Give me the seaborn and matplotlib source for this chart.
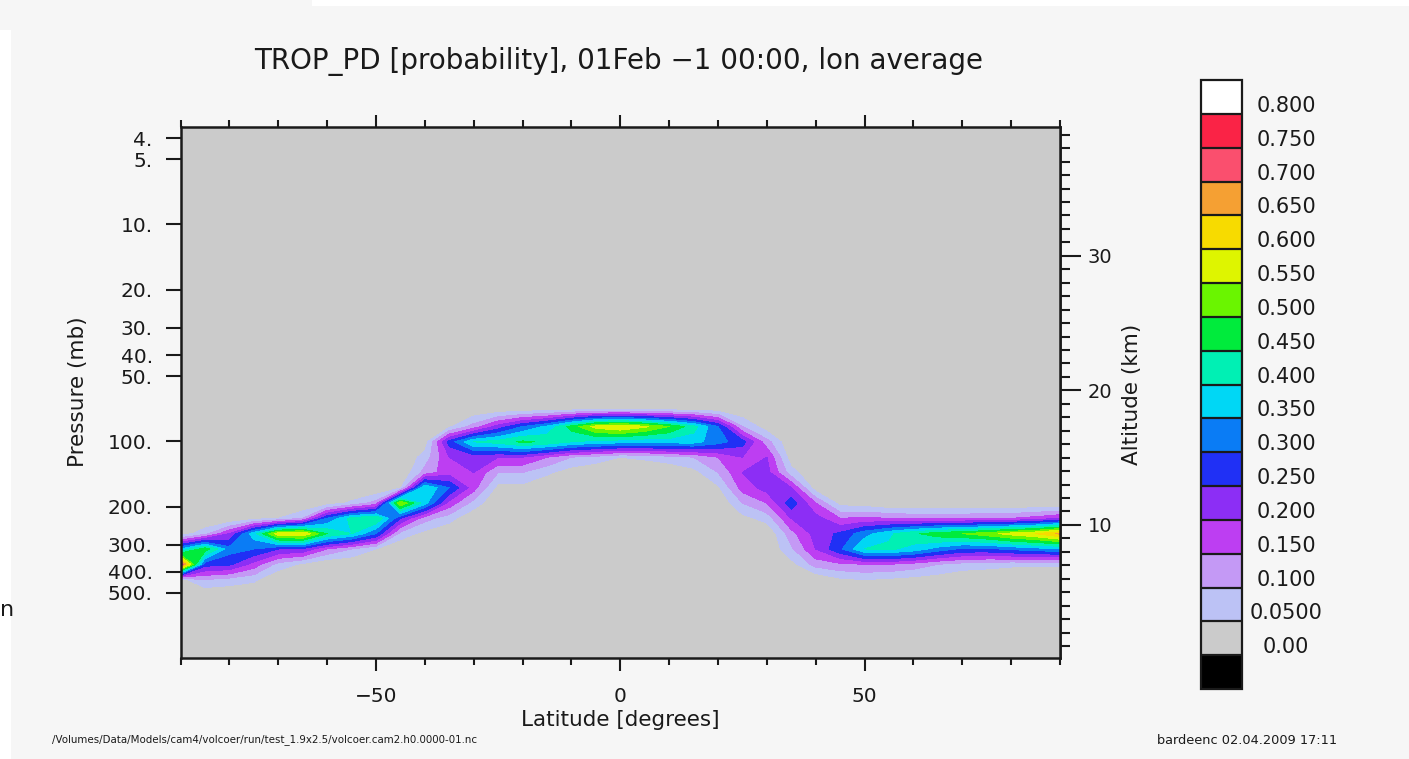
import numpy as np
import matplotlib
matplotlib.use("Agg")
import matplotlib.pyplot as plt
import seaborn as sns
from matplotlib.colors import ListedColormap, BoundaryNorm
from matplotlib.ticker import FixedLocator, MultipleLocator, NullLocator, FixedFormatter, NullFormatter
from matplotlib.patches import Rectangle
from matplotlib.transforms import ScaledTranslation, blended_transform_factory

sns.set_theme(style="ticks")
plt.rcParams["font.family"] = ["DejaVu Sans"]
plt.rcParams["axes.unicode_minus"] = True

# ---------------- data ----------------
latitude = [-90, -85, -80, -75, -70, -65, -60, -55, -50, -45, -40, -35, -30,
            -25, -20, -15, -10, -5, 0, 5, 10, 15, 20, 25, 30, 35, 40, 45,
            50, 55, 60, 65, 70, 75, 80, 85, 90]

pressure = [3.54, 53.11, 70.06, 85.44, 100.51, 118.25, 139.12, 163.66,
            192.54, 226.51, 266.48, 313.50, 368.82, 433.90, 510.46, 992.56]

prob = [
    # 3.54
    [0, 0, 0, 0, 0, 0, 0, 0, 0, 0, 0, 0, 0, 0, 0, 0, 0, 0, 0, 0, 0, 0, 0, 0, 0, 0, 0, 0, 0, 0, 0, 0, 0, 0, 0, 0, 0],
    # 53.11
    [0, 0, 0, 0, 0, 0, 0, 0, 0, 0, 0, 0, 0, 0, 0, 0, 0, 0, 0, 0, 0, 0, 0, 0, 0, 0, 0, 0, 0, 0, 0, 0, 0, 0, 0, 0, 0],
    # 70.06
    [0, 0, 0, 0, 0, 0, 0, 0, 0, 0, 0, 0, 0, 0, 0, 0, 0, 0, 0, 0, 0, 0, 0, 0, 0, 0, 0, 0, 0, 0, 0, 0, 0, 0, 0, 0, 0],
    # 85.44
    [0, 0, 0, 0, 0, 0, 0, 0, 0, 0, 0, 0.04, 0.12, 0.22, 0.30, 0.36, 0.47, 0.57, 0.60, 0.56, 0.50, 0.42, 0.30, 0.10,
     0.02, 0, 0, 0, 0, 0, 0, 0, 0, 0, 0, 0, 0],
    # 100.51
    [0, 0, 0, 0, 0, 0, 0, 0, 0, 0, 0.02, 0.27, 0.40, 0.42, 0.46, 0.44, 0.40, 0.38, 0.37, 0.36, 0.37, 0.37, 0.32,
     0.27, 0.12, 0, 0, 0, 0, 0, 0, 0, 0, 0, 0, 0, 0],
    # 118.25
    [0, 0, 0, 0, 0, 0, 0, 0, 0, 0, 0.07, 0.20, 0.22, 0.20, 0.20, 0.15, 0.10, 0.08, 0.05, 0.06, 0.08, 0.10, 0.15,
     0.20, 0.20, 0.02, 0, 0, 0, 0, 0, 0, 0, 0, 0, 0, 0],
    # 139.12
    [0, 0, 0, 0, 0, 0, 0, 0, 0, 0, 0.12, 0.18, 0.20, 0.10, 0.10, 0.06, 0.02, 0, 0, 0, 0, 0.03, 0.10,
     0.20, 0.22, 0.07, 0, 0, 0, 0, 0, 0, 0, 0, 0, 0, 0],
    # 163.66
    [0, 0, 0, 0, 0, 0, 0, 0, 0, 0.04, 0.40, 0.30, 0.17, 0.03, 0.03, 0, 0, 0, 0, 0, 0, 0, 0.04,
     0.17, 0.22, 0.20, 0.02, 0, 0, 0, 0, 0, 0, 0, 0, 0, 0],
    # 192.54
    [0, 0, 0, 0, 0, 0, 0.02, 0.06, 0.12, 0.55, 0.37, 0.18, 0.08, 0, 0, 0, 0, 0, 0, 0, 0, 0, 0,
     0.10, 0.15, 0.28, 0.15, 0.03, 0.02, 0, 0, 0, 0, 0, 0, 0, 0],
    # 226.51
    [0, 0, 0, 0.03, 0.05, 0.10, 0.30, 0.42, 0.45, 0.25, 0.12, 0.07, 0, 0, 0, 0, 0, 0, 0, 0, 0, 0, 0,
     0.03, 0.07, 0.20, 0.22, 0.15, 0.16, 0.15, 0.14, 0.14, 0.14, 0.15, 0.15, 0.17, 0.20],
    # 266.48
    [0.02, 0.08, 0.20, 0.38, 0.58, 0.60, 0.45, 0.40, 0.30, 0.08, 0.03, 0, 0, 0, 0, 0, 0, 0, 0, 0, 0, 0, 0,
     0, 0, 0.13, 0.22, 0.26, 0.33, 0.39, 0.44, 0.48, 0.50, 0.53, 0.57, 0.60, 0.66],
    # 313.50
    [0.35, 0.48, 0.32, 0.30, 0.25, 0.24, 0.15, 0.10, 0.05, 0, 0, 0, 0, 0, 0, 0, 0, 0, 0, 0, 0, 0, 0,
     0, 0, 0.09, 0.20, 0.29, 0.40, 0.41, 0.38, 0.33, 0.29, 0.29, 0.31, 0.33, 0.34],
    # 368.82
    [0.75, 0.27, 0.26, 0.18, 0.08, 0.04, 0, 0, 0, 0, 0, 0, 0, 0, 0, 0, 0, 0, 0, 0, 0, 0, 0,
     0, 0, 0.03, 0.12, 0.14, 0.15, 0.15, 0.13, 0.10, 0.08, 0.07, 0.06, 0.06, 0.06],
    # 433.90
    [0.03, 0.10, 0.08, 0.06, 0, 0, 0, 0, 0, 0, 0, 0, 0, 0, 0, 0, 0, 0, 0, 0, 0, 0, 0,
     0, 0, 0, 0, 0.04, 0.05, 0.04, 0.03, 0.02, 0, 0, 0, 0, 0],
    # 510.46
    [0, 0, 0, 0, 0, 0, 0, 0, 0, 0, 0, 0, 0, 0, 0, 0, 0, 0, 0, 0, 0, 0, 0, 0, 0, 0, 0, 0, 0, 0, 0, 0, 0, 0, 0, 0, 0],
    # 992.56
    [0, 0, 0, 0, 0, 0, 0, 0, 0, 0, 0, 0, 0, 0, 0, 0, 0, 0, 0, 0, 0, 0, 0, 0, 0, 0, 0, 0, 0, 0, 0, 0, 0, 0, 0, 0, 0],
]

levels = [0.0, 0.05, 0.1, 0.15, 0.2, 0.25, 0.3, 0.35, 0.4, 0.45, 0.5, 0.55,
          0.6, 0.65, 0.7, 0.75, 0.8]
level_labels = ["0.00", "0.0500", "0.100", "0.150", "0.200", "0.250", "0.300",
                "0.350", "0.400", "0.450", "0.500", "0.550", "0.600", "0.650",
                "0.700", "0.750", "0.800"]
fill_colors = ["#cbcbcb", "#bcc2f5", "#c499f5", "#bd3ef2", "#8c2ef5", "#2030f5",
               "#0a7cf5", "#00d7f5", "#00f0b4", "#00eb3c", "#6af500", "#def500",
               "#f7db00", "#f5a033", "#fa4f6e", "#fa2346"]
under_color = "#000000"
over_color = "#ffffff"

lat_ticks = [-50, 0, 50]
lat_tick_labels = ["\u221250", "0", "50"]
p_ticks = [4, 5, 10, 20, 30, 40, 50, 100, 200, 300, 400, 500]
p_tick_labels = ["4.", "5.", "10.", "20.", "30.", "40.", "50.", "100.",
                 "200.", "300.", "400.", "500."]
alt_ticks = [10, 20, 30]
alt_tick_labels = ["10", "20", "30"]

title = "TROP_PD [probability], 01Feb \u22121 00:00, lon average"
footer_left = "/Volumes/Data/Models/cam4/volcoer/run/test_1.9x2.5/volcoer.cam2.h0.0000-01.nc"
footer_right = "bardeenc 02.04.2009 17:11"

# ---------------- figure ----------------
W, H, DPI = 1409, 759, 100
BG = "#f6f6f6"
INK = "#1a1a1a"

fig = plt.figure(figsize=(W / DPI, H / DPI), dpi=DPI, facecolor=BG)


def fx(px):
    return px / W


def fy(py):
    return 1 - py / H


# screenshot white strips
fig.add_artist(Rectangle((fx(312), fy(6)), 1, 6 / H, transform=fig.transFigure,
                         facecolor="white", edgecolor="none", zorder=0))
fig.add_artist(Rectangle((0, 0), fx(11), fy(30), transform=fig.transFigure,
                         facecolor="white", edgecolor="none", zorder=0))
fig.text(fx(0), fy(610), "n", fontsize=16, color=INK, ha="left", va="center")

ax = fig.add_axes([fx(180.5), fy(657.5), fx(1060) - fx(180.5), fy(126.7) - fy(657.5)])
ax.set_facecolor("#cbcbcb")

Z = np.clip(np.array(prob, dtype=float), 1e-4, None)
cmap = ListedColormap(sns.color_palette(fill_colors))
cmap.set_under(under_color)
cmap.set_over(over_color)
norm = BoundaryNorm(levels, cmap.N)
cs = ax.contourf(latitude, pressure, Z, levels=levels, cmap=cmap, norm=norm,
                 extend="both", antialiased=False)

ax.set_yscale("log")
ax.set_xlim(-90, 90)
ax.set_ylim(992.56, 3.54)
ax.yaxis.set_major_locator(FixedLocator(p_ticks))
ax.yaxis.set_major_formatter(FixedFormatter(p_tick_labels))
ax.yaxis.set_minor_locator(NullLocator())
ax.tick_params(axis="y", which="major", direction="out", length=11, width=1.5,
               left=True, right=False, labelsize=14.5, pad=9, colors=INK)
ax.xaxis.set_major_locator(FixedLocator(lat_ticks))
ax.xaxis.set_major_formatter(FixedFormatter(lat_tick_labels))
ax.xaxis.set_minor_locator(MultipleLocator(10))
ax.tick_params(axis="x", which="both", direction="out", top=True, bottom=True,
               width=1.5, colors=INK)
ax.tick_params(axis="x", which="major", length=9, labelsize=14.5, pad=12)
ax.tick_params(axis="x", which="minor", length=5)
for s in ax.spines.values():
    s.set_color(INK)
    s.set_linewidth(1.8)
ax.grid(False)


def p_to_z(p):
    p = np.clip(np.asarray(p, dtype=float), 1e-6, None)
    return 7.0 * np.log(1013.25 / p)


def z_to_p(z):
    return 1013.25 * np.exp(-np.asarray(z, dtype=float) / 7.0)


sec = ax.secondary_yaxis("right", functions=(p_to_z, z_to_p))
sec.yaxis.set_major_locator(FixedLocator(alt_ticks))
sec.yaxis.set_major_formatter(FixedFormatter(alt_tick_labels))
sec.yaxis.set_minor_locator(MultipleLocator(1))
sec.yaxis.set_minor_formatter(NullFormatter())
sec.tick_params(which="major", direction="out", length=15, width=1.5, labelsize=14,
                pad=5, colors=INK)
sec.tick_params(which="minor", direction="out", length=7, width=1.5, colors=INK)
for s in sec.spines.values():
    s.set_color(INK)
    s.set_linewidth(1.8)

# colorbar
cax = fig.add_axes([fx(1200.7), fy(689), fx(1242) - fx(1200.7), fy(80) - fy(689)])
cb = fig.colorbar(cs, cax=cax, orientation="vertical", extend="both",
                  extendrect=True, extendfrac=1 / 16, drawedges=True, ticks=levels)
cb.outline.set_edgecolor(INK)
cb.outline.set_linewidth(1.6)
cb.dividers.set_color(INK)
cb.dividers.set_linewidth(1.6)
cax.tick_params(length=0, labelright=False, labelleft=False)
lab_tr = blended_transform_factory(fig.transFigure, cax.transAxes) + \
    ScaledTranslation(0, 8 / DPI, fig.dpi_scale_trans)
for i, lab in enumerate(level_labels):
    cax.text(fx(1286), i / 16, lab, transform=lab_tr, ha="center", va="center",
             fontsize=15, color=INK, clip_on=False)

# texts
fig.text(fx(619), fy(61), title, ha="center", va="center", fontsize=20, color=INK)
fig.text(fx(620), fy(720), "Latitude [degrees]", ha="center", va="center",
         fontsize=15.5, color=INK)
fig.text(fx(78), fy(392), "Pressure (mb)", ha="center", va="center", rotation=90,
         fontsize=15.5, color=INK)
fig.text(fx(1132), fy(394), "Altitude (km)", ha="center", va="center", rotation=90,
         fontsize=15.5, color=INK)
fig.text(fx(52), fy(740), footer_left, ha="left", va="center", fontsize=7.4, color=INK)
fig.text(fx(1157), fy(741), footer_right, ha="left", va="center", fontsize=9.3, color=INK)

fig.savefig("out.png", dpi=DPI, facecolor=BG)
